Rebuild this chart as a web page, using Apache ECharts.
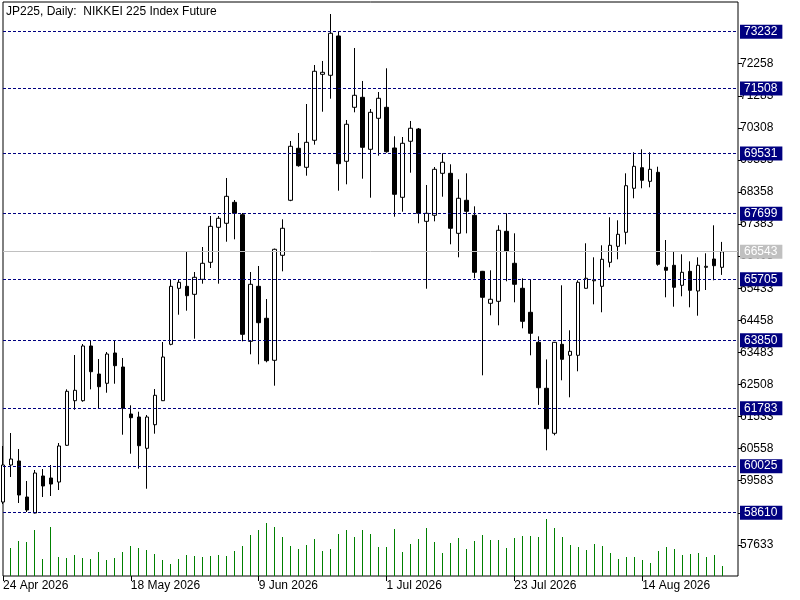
<!DOCTYPE html>
<html><head><meta charset="utf-8">
<script src="https://cdn.jsdelivr.net/npm/echarts@6/dist/echarts.min.js"></script>
<style>html,body{margin:0;padding:0;background:#fff}#c{width:800px;height:600px}</style>
</head><body><div id="c"></div>
<script>
const FONT = 'Liberation Sans';
const titleText = 'JP225, Daily:  NIKKEI 225 Index Future';

const opens = [58935,60060,60182,59087,58601,59726,59665,59543,60659,62015,
62015,63678,62826,62544,63465,63039,61610,61519,60568,61285,
62015,63729,65431,65492,65249,65705,66222,67286,67408,68046,
67669,63820,65492,64520,63243,66435,68107,69688,69110,69931,
71937,71907,73102,69293,70934,71238,69657,70600,70934,69697,
68198,69901,70274,67468,67651,68927,68927,67103,68107,67651,
65948,64976,65036,67164,66192,65432,64702,63790,62392,61024,
63729,63395,63395,65432,65660,65492,66222,66708,67134,68472,
69098,68684,68958,66070,66131,65523,65948,65350,66070,66322,
66070];
const closes = [60060,60242,59148,58692,59817,59422,59482,60638,62300,62331,
63678,62896,62440,63434,63079,61784,61498,60647,61519,62179,
63343,65492,65614,65207,65766,66192,67316,67560,68228,67712,
64033,65553,64386,63231,66617,67256,69749,69159,69870,72029,
71998,73184,69220,70418,71299,69718,70782,71208,69584,68289,
69840,70297,67712,67712,69049,69262,67256,68168,67772,65918,
65158,65098,67195,66556,65553,64428,64064,62410,61163,63790,
63273,63516,65614,65736,65690,66313,66739,67073,68551,69140,
68715,69049,66161,65979,65462,65918,65371,66131,66100,66119,
66543];
const lows = [58874,59695,58905,58631,58590,59087,59118,59300,60638,61741,
61984,62361,61784,62258,62531,60981,60404,59951,59339,61012,
62006,63700,64629,64751,63900,65572,66049,65572,66848,66921,
63820,63425,63121,63182,62471,65948,68080,69128,68855,69797,
70800,71196,68399,68593,70782,68764,68186,69463,69554,67608,
67760,68946,67408,65419,67468,68216,66769,66374,67103,65736,
62787,64611,64307,65645,65006,64216,63395,61887,60507,60963,
62635,62118,62909,65420,64945,64703,66070,66313,66769,68168,
68472,68502,66119,65158,64872,65189,64854,64599,65380,65675,
65839];
const highs = [60638,61033,60546,59574,59908,59938,60060,60729,62361,63404,
63738,63830,63282,63495,63860,63313,61875,61680,61580,62370,
63799,65705,65705,66544,65927,66687,67630,67630,68785,68116,
67721,65927,66110,65106,66640,67529,69910,70153,71034,72220,
72342,73770,73244,70548,72737,71734,70882,71399,72120,70053,
70031,70518,70305,68572,69119,69536,69201,68745,68927,67924,
65960,65979,67347,67712,67103,65736,65705,63972,63270,63799,
65523,64155,65675,66800,66374,66739,67590,67499,68927,69566,
69657,69566,69128,66900,66556,66465,66252,66374,66496,67347,
66842];
const volumes = [null,28,35,34,46,17,49,19,18,21,
18,17,24,16,18,24,30,28,26,22,
16,12,17,21,20,19,20,21,20,25,
30,41,46,53,49,39,30,27,31,37,
25,27,42,46,39,46,42,29,29,47,
24,32,37,48,34,23,33,38,27,35,
41,36,36,28,38,40,40,39,57,48,
39,31,29,26,32,30,23,17,19,19,
16,13,25,29,27,21,22,23,19,21,
10];
const levels = [73232,71508,69531,67699,65705,63850,61783,60025,58610];
const priceTicks = [57633,58608,59583,60558,61533,62508,63483,64458,65433,66408,67383,68358,69333,70308,71283,72258];

// trading-day categories (weekdays) starting 24 Apr 2026
const MONTHS = ['Jan','Feb','Mar','Apr','May','Jun','Jul','Aug','Sep','Oct','Nov','Dec'];
const dates = [];
{
  let t = Date.UTC(2026,3,24);
  while (dates.length < 93) {
    const d = new Date(t);
    const wd = d.getUTCDay();
    if (wd !== 0 && wd !== 6) dates.push(d.getUTCDate() + ' ' + MONTHS[d.getUTCMonth()] + ' ' + d.getUTCFullYear());
    t += 86400000;
  }
}

const candleData = opens.map((o,i)=>[o, closes[i], lows[i], highs[i]]);
const lastPrice = closes[closes.length-1];
const labelEvery = (i)=> i % 16 === 0 && i <= 80;

const chart = echarts.init(document.getElementById('c'), null, {renderer:'canvas'});
chart.setOption({
  animation:false,
  backgroundColor:'#fff',
  title:{text:titleText,left:6,top:6,padding:0,
    textStyle:{fontFamily:FONT,fontSize:12,fontWeight:'normal',color:'#000'}},
  grid:[
    {left:2,right:62,top:2,bottom:24,show:true,borderColor:'#000',borderWidth:1,backgroundColor:'#fff'},
    {left:2.5,right:61.5,bottom:24,height:100}
  ],
  xAxis:[
    {type:'category',gridIndex:0,data:dates,boundaryGap:false,
     axisLine:{show:false},
     axisTick:{show:true,interval:labelEvery,length:5,lineStyle:{color:'#000',width:1}},
     axisLabel:{interval:labelEvery,align:'left',margin:4,hideOverlap:false,
       fontFamily:FONT,fontSize:12,color:'#000'},
     splitLine:{show:false}},
    {type:'category',gridIndex:1,data:dates,boundaryGap:false,show:false}
  ],
  yAxis:[
    {type:'value',gridIndex:0,position:'right',min:56686,max:74135,
     axisLine:{show:false},
     axisTick:{show:true,length:4,customValues:priceTicks,lineStyle:{color:'#000'}},
     axisLabel:{customValues:priceTicks,margin:2,fontFamily:FONT,fontSize:12,color:'#000',
       formatter:v=>String(v)},
     splitLine:{show:false}},
    {type:'value',gridIndex:1,min:0,max:100,show:false}
  ],
  series:[
    {type:'line',xAxisIndex:0,yAxisIndex:0,data:[],z:1,silent:true,
     markLine:{silent:true,symbol:['none','none'],animation:false,
       label:{position:'end',distance:2,formatter:p=>String(p.value),color:'#fff',
         backgroundColor:'#000080',fontFamily:FONT,fontSize:12,lineHeight:13,padding:[1,5,0,4]},
       lineStyle:{color:'#000080',type:[3,2],width:1},
       emphasis:{disabled:true},
       data: levels.map(v=>({yAxis:v})).concat([
         {yAxis:lastPrice,lineStyle:{color:'#c0c0c0',type:'solid',width:1},
          label:{backgroundColor:'#c0c0c0',color:'#fff'}}])
     }},
    {type:'bar',xAxisIndex:1,yAxisIndex:1,data:volumes,barWidth:1,silent:true,
     itemStyle:{color:'#008000'},z:2},
    {type:'candlestick',xAxisIndex:0,yAxisIndex:0,data:candleData,barWidth:4,z:3,silent:true,
     itemStyle:{color:'#ffffff',color0:'#000000',borderColor:'#000000',borderColor0:'#000000',borderWidth:1}}
  ]
});
</script></body></html>
